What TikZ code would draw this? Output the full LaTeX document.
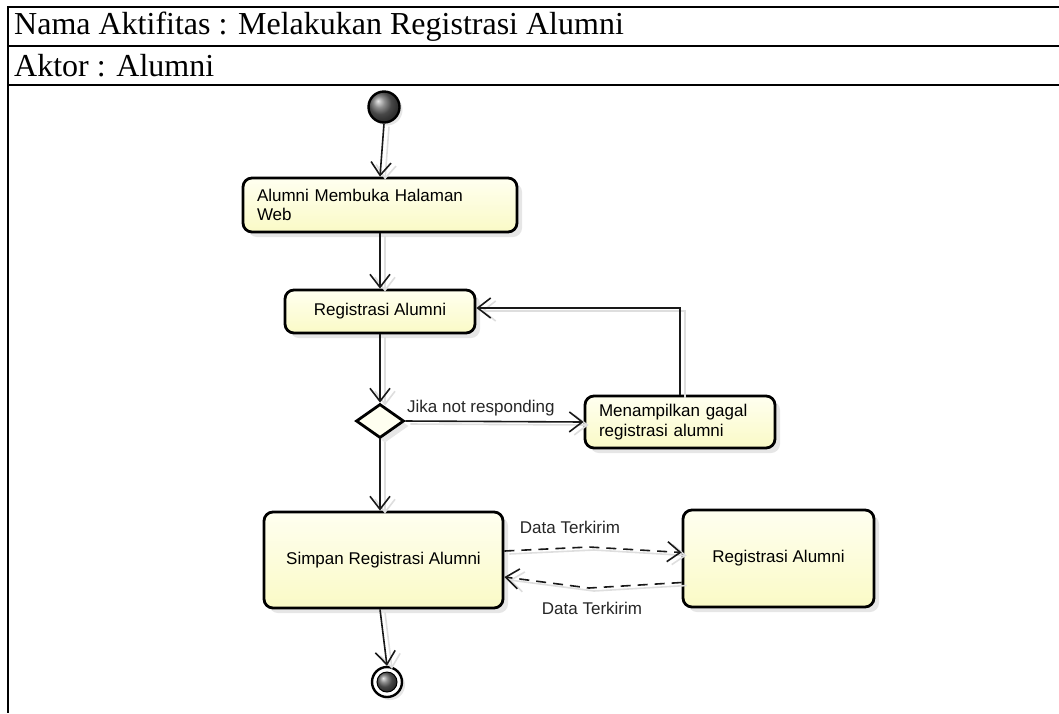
\documentclass[tikz,border=0pt]{standalone}
\usepackage{fontspec}
\setmainfont{Liberation Serif}
\newfontfamily\umlfont{Liberation Sans}
\usetikzlibrary{arrows.meta,shapes.geometric,shadows,calc}
\definecolor{ytop}{RGB}{255,255,240}
\definecolor{ybot}{RGB}{250,250,198}
\definecolor{lnk}{RGB}{25,25,25}
\tikzset{
  act/.style={draw=black, line width=2.8pt, rounded corners=9pt,
    top color=ytop, bottom color=ybot,
    drop shadow={shadow xshift=5pt, shadow yshift=-5pt, opacity=0.2, fill=gray},
    font=\umlfont\fontsize{17}{20}\selectfont, inner xsep=14pt, inner ysep=0pt},
  flow/.style={draw=lnk, line width=1.6pt,
    -{Straight Barb[length=13pt,width=20pt,line width=1.6pt]}},
  msg/.style={flow, dash pattern=on 10pt off 7pt},
  lbl/.style={font=\umlfont\fontsize{17}{20}\selectfont, inner sep=0pt, text=black!85},
  tabtxt/.style={font=\fontsize{32}{36}\selectfont, inner sep=0pt, anchor=west},
  rule/.style={line width=2.5pt, draw=black}
}
\newcommand\myconnectors{%
  \draw[flow] (start.south) -- (b1.north);
  \draw[flow] (b1.south) -- (b2.north);
  \draw[flow] (b2.south) -- (d.north);
  \draw[flow] (d.east) -- (b3.west);
  \draw[flow] (b3.north) -- (loop) -- (b2.east |- loop);
  \draw[flow] (d.south) -- (b4.north -| d.south);
  \draw[flow] (b4.south -| d.south) -- (end.north);
  \draw[msg] (s1) -- (m1) -- (e1);
  \draw[msg] (s2) -- (m2) -- (e2);
}
\begin{document}
\begin{tikzpicture}[x=1pt,y=-1pt]
\useasboundingbox (0,0) rectangle (1059,713);
% table
\draw[rule] (1059,7) -- (8,7) -- (8,713);
\draw[rule] (8,46) -- (1059,46);
\draw[line width=1.6pt] (8,85) -- (1059,85);
\draw[rule] (8,85) -- (162,85);
\draw[rule] (912,85) -- (1059,85);
\node[tabtxt] (t1) at (14,27) {Nama Aktifitas : Melakukan Registrasi Alumni};
\node[tabtxt] (t2) at (14,66) {Aktor : Alumni};
% nodes
\node[circle, draw=black, line width=2.4pt, shading=ball, ball color=gray!80!black,
      minimum size=31pt, inner sep=0pt,
      drop shadow={shadow xshift=3pt, shadow yshift=-3pt, opacity=0.2, fill=gray}] (start) at (384,107) {};
\node[act, minimum width=274pt, minimum height=54pt, text width=246pt, align=left, font=\umlfont\fontsize{17}{19}\selectfont] (b1) at (380,205) {Alumni Membuka Halaman\\Web};
\node[act, minimum width=190pt, minimum height=43pt] (b2) at (380,311.5) {Registrasi Alumni};
\node[diamond, draw=black, line width=2.8pt, fill=ytop, minimum width=48pt, minimum height=34pt, inner sep=0pt,
      drop shadow={shadow xshift=5pt, shadow yshift=-5pt, opacity=0.2, fill=gray}] (d) at (380,421) {};
\node[act, minimum width=190pt, minimum height=52pt, text width=162pt, align=left] (b3) at (680,422) {Menampilkan gagal\\registrasi alumni};
\node[act, minimum width=239pt, minimum height=96pt] (b4) at (383.5,560) {Simpan Registrasi Alumni};
\node[act, minimum width=191pt, minimum height=97pt] (b5) at (778.5,558.5) {Registrasi Alumni};
\node[circle, draw=black, line width=2.4pt, fill=white, minimum size=30pt, inner sep=0pt,
      drop shadow={shadow xshift=3pt, shadow yshift=-3pt, opacity=0.2, fill=gray}] (end) at (387,682) {};
\node[circle, draw=black, line width=1pt, shading=ball, ball color=gray!80!black, minimum size=20pt, inner sep=0pt] (endin) at (end.center) {};
% labels
\node[lbl, anchor=south west] (jika) at (407,416) {Jika not responding};
\node[lbl] (dt1) at (570,527) {Data Terkirim};
\node[lbl] (dt2) at (592,608) {Data Terkirim};
% connector points
\coordinate (loop) at (680,308);
\coordinate (s1) at ($(b4.east)+(0,-9)$);
\coordinate (m1) at (589,547);
\coordinate (e1) at ($(b5.west)+(0,-6)$);
\coordinate (s2) at ($(b5.west)+(0,24)$);
\coordinate (m2) at (589,588);
\coordinate (e2) at ($(b4.east)+(0,17)$);
% faint connector shadows
\begin{scope}[transform canvas={xshift=5pt,yshift=-3pt},
  flow/.append style={draw=black!13},
  msg/.append style={solid}]
  \myconnectors
\end{scope}
% connectors
\myconnectors
\end{tikzpicture}
\end{document}
